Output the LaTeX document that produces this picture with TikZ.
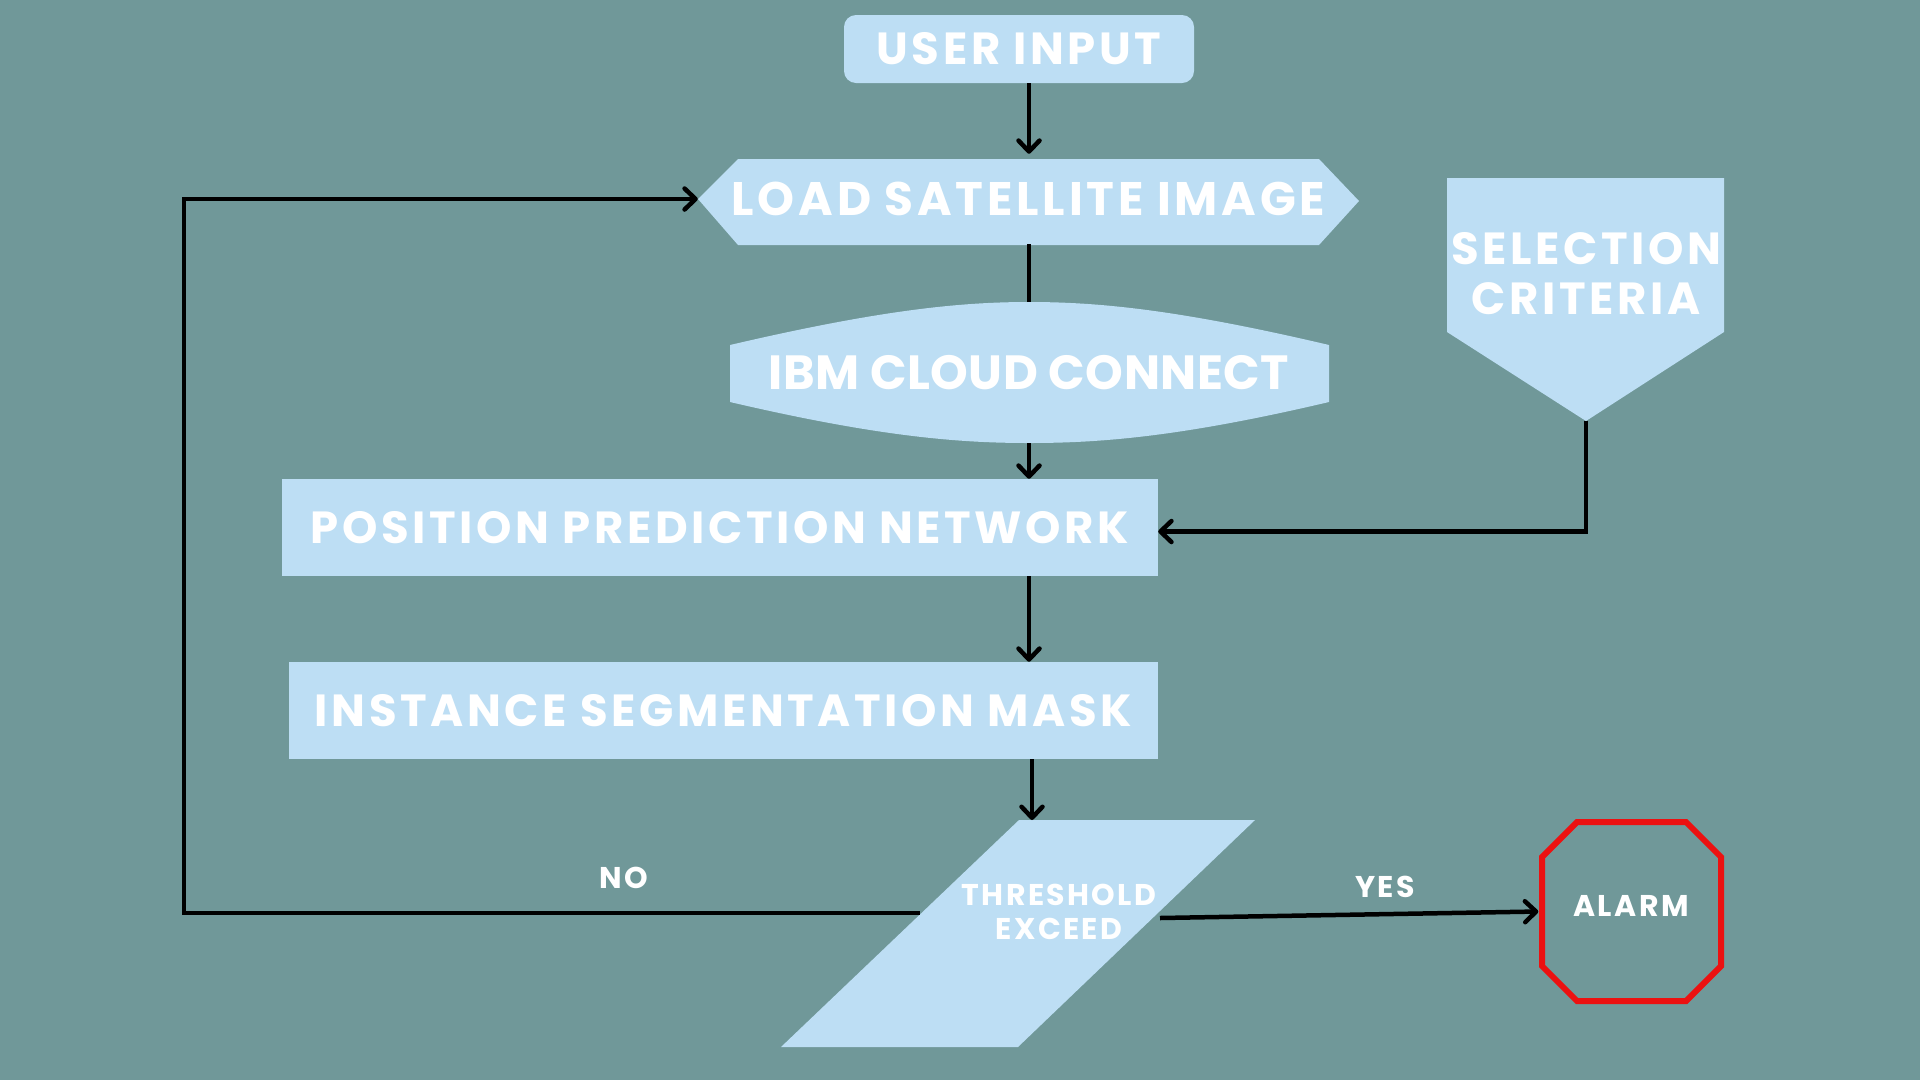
\documentclass[tikz,border=0pt]{standalone}
\usepackage{fontspec}
\usetikzlibrary{arrows.meta}
\newfontfamily\headfont{Poppins}[LetterSpace=8]
\newfontfamily\cloudfont{Poppins}[LetterSpace=1]
\definecolor{BackTeal}{RGB}{112,152,153}
\definecolor{BoxBlue}{RGB}{189,222,244}
\definecolor{AlarmRed}{RGB}{236,17,17}

\tikzset{
  bigtext/.style={text=white, font=\headfont\bfseries\fontsize{45}{50}\selectfont, align=center, inner sep=0pt},
  smalltext/.style={text=white, font=\headfont\bfseries\fontsize{30}{34}\selectfont, align=center, inner sep=0pt},
  flow/.style={line width=4.5pt, -{Straight Barb[length=11pt,width=21pt,round]}},
  plainflow/.style={line width=4.5pt},
}

\begin{document}
\begin{tikzpicture}[x=1pt, y=-1pt]
  \fill[BackTeal] (0,0) rectangle (1920,1080);
  \useasboundingbox (0,0) rectangle (1920,1080);

  % odd shapes first, text nodes on top
  \fill[BoxBlue] (698,199) -- (738,159) -- (1319,159) -- (1359,201) -- (1319,245) -- (738,245) -- cycle;
  \fill[BoxBlue] (730,345) .. controls (880,310) and (960,302) .. (1029,302)
    .. controls (1100,302) and (1180,310) .. (1329,345) -- (1329,402)
    .. controls (1180,437) and (1100,443) .. (1029,443)
    .. controls (960,443) and (880,437) .. (730,402) -- cycle;
  \fill[BoxBlue] (1447,178) -- (1724,178) -- (1724,332) -- (1586,421) -- (1447,332) -- cycle;
  \fill[BoxBlue] (1019,820) -- (1255,820) -- (1018,1047) -- (781,1047) -- cycle;
  \draw[AlarmRed, line width=6pt] (1577,822) -- (1686,822) -- (1721,857) -- (1721,966)
    -- (1686,1001) -- (1577,1001) -- (1542,966) -- (1542,857) -- cycle;

  \node[bigtext, fill=BoxBlue, rounded corners=12pt, minimum width=350pt, minimum height=68pt] (user) at (1019,49) {USER INPUT};
  \node[bigtext, font=\headfont\bfseries\fontsize{47}{50}\selectfont, minimum width=661pt, minimum height=90pt] (load) at (1028.5,199) {LOAD SATELLITE IMAGE};
  \node[bigtext, font=\cloudfont\bfseries\fontsize{48}{50}\selectfont, minimum width=599pt, minimum height=141pt] (cloud) at (1029,372.5) {IBM CLOUD CONNECT};
  \node[bigtext, fill=BoxBlue, minimum width=876pt, minimum height=97pt] (pos) at (720,527.5) {POSITION PREDICTION NETWORK};
  \node[bigtext, fill=BoxBlue, minimum width=869pt, minimum height=97pt] (inst) at (723.5,710.5) {INSTANCE SEGMENTATION MASK};
  \node[bigtext] (sel) at (1586,274) {SELECTION\\CRITERIA};
  \node[smalltext] (thr) at (1059,912) {THRESHOLD\\EXCEED};
  \node[smalltext, text depth=12pt, minimum width=185pt, minimum height=185pt] (alarm) at (1631,911.5) {ALARM};
  \node[smalltext] (no) at (624,878) {NO};
  \node[smalltext] (yes) at (1385,887) {YES};

  \coordinate (seltip) at (1586,421);
  \coordinate (thrtop) at (1032,820);
  \coordinate (thrleft) at (920,913);
  \coordinate (thrright) at (1160,918);

  \draw[flow] (user.south -| cloud.north) -- (load.north -| cloud.north);
  \draw[plainflow] (load.south -| cloud.north) -- (cloud.north);
  \draw[flow] (cloud.south) -- (cloud.south |- pos.north);
  \draw[flow] (seltip) |- ([yshift=-4pt]pos.east);
  \draw[flow] (pos.south -| cloud.south) -- (cloud.south |- inst.north);
  \draw[flow] (inst.south -| thrtop) -- (thrtop);
  \draw[flow] (thrleft) -- ++(-736,0) |- (load.west);
  \draw[flow] (thrright) -- (alarm.west);
\end{tikzpicture}
\end{document}
